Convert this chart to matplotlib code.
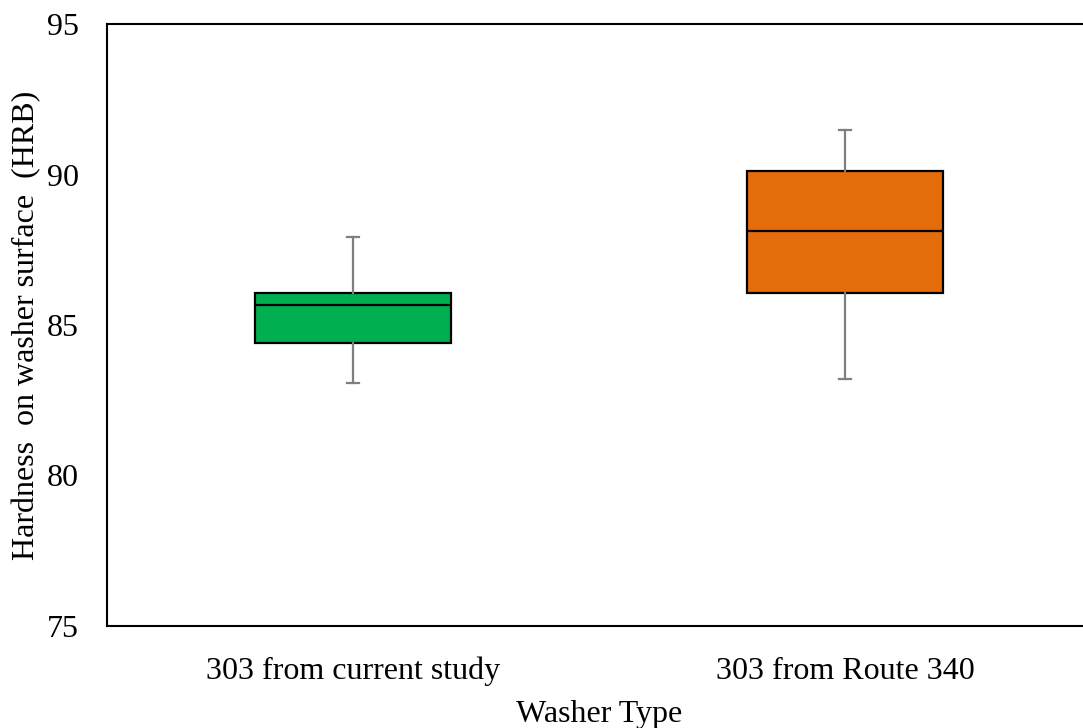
import matplotlib
matplotlib.use("Agg")
import matplotlib.pyplot as plt

# washer types and box statistics (HRB)
labels = ["303 from current study", "303 from Route 340"]
whislo = [83.08, 83.22]
q1 = [84.39, 86.07]
med = [85.65, 88.11]
q3 = [86.07, 90.11]
whishi = [87.92, 91.49]
colors = ["#00B050", "#E46C0A"]

plt.rcParams["font.family"] = ["Liberation Serif", "DejaVu Serif"]

fig = plt.figure(figsize=(10.83, 7.28), dpi=100)
# right edge of the plot area runs past the picture in the original
ax = fig.add_axes([107 / 1083, 1 - 626 / 728, 984 / 1083, 602 / 728])

stats = []
for i in range(len(labels)):
    stats.append({"label": labels[i], "whislo": whislo[i], "q1": q1[i], "med": med[i],
                  "q3": q3[i], "whishi": whishi[i], "fliers": []})

bp = ax.bxp(stats, positions=[0.5, 1.5], widths=0.4, patch_artist=True,
            showfliers=False,
            boxprops=dict(edgecolor="black", linewidth=1.6),
            medianprops=dict(color="black", linewidth=1.6),
            whiskerprops=dict(color="#7F7F7F", linewidth=1.6),
            capprops=dict(color="#7F7F7F", linewidth=1.6),
            capwidths=0.025)
for box, c in zip(bp["boxes"], colors):
    box.set_facecolor(c)

ax.set_xlim(0, 2)
ax.set_ylim(75, 95)
ax.set_yticks([75, 80, 85, 90, 95])
ax.tick_params(axis="both", length=0, labelsize=23)
ax.tick_params(axis="x", pad=22)
ax.tick_params(axis="y", pad=20)
ax.spines["right"].set_visible(False)
for s in ["left", "top", "bottom"]:
    ax.spines[s].set_linewidth(1.5)

ax.set_xlabel("Washer Type", fontsize=23, labelpad=10)
ax.set_ylabel("Hardness  on washer surface  (HRB)", fontsize=23, labelpad=4)

fig.savefig("out.png", dpi=100)
